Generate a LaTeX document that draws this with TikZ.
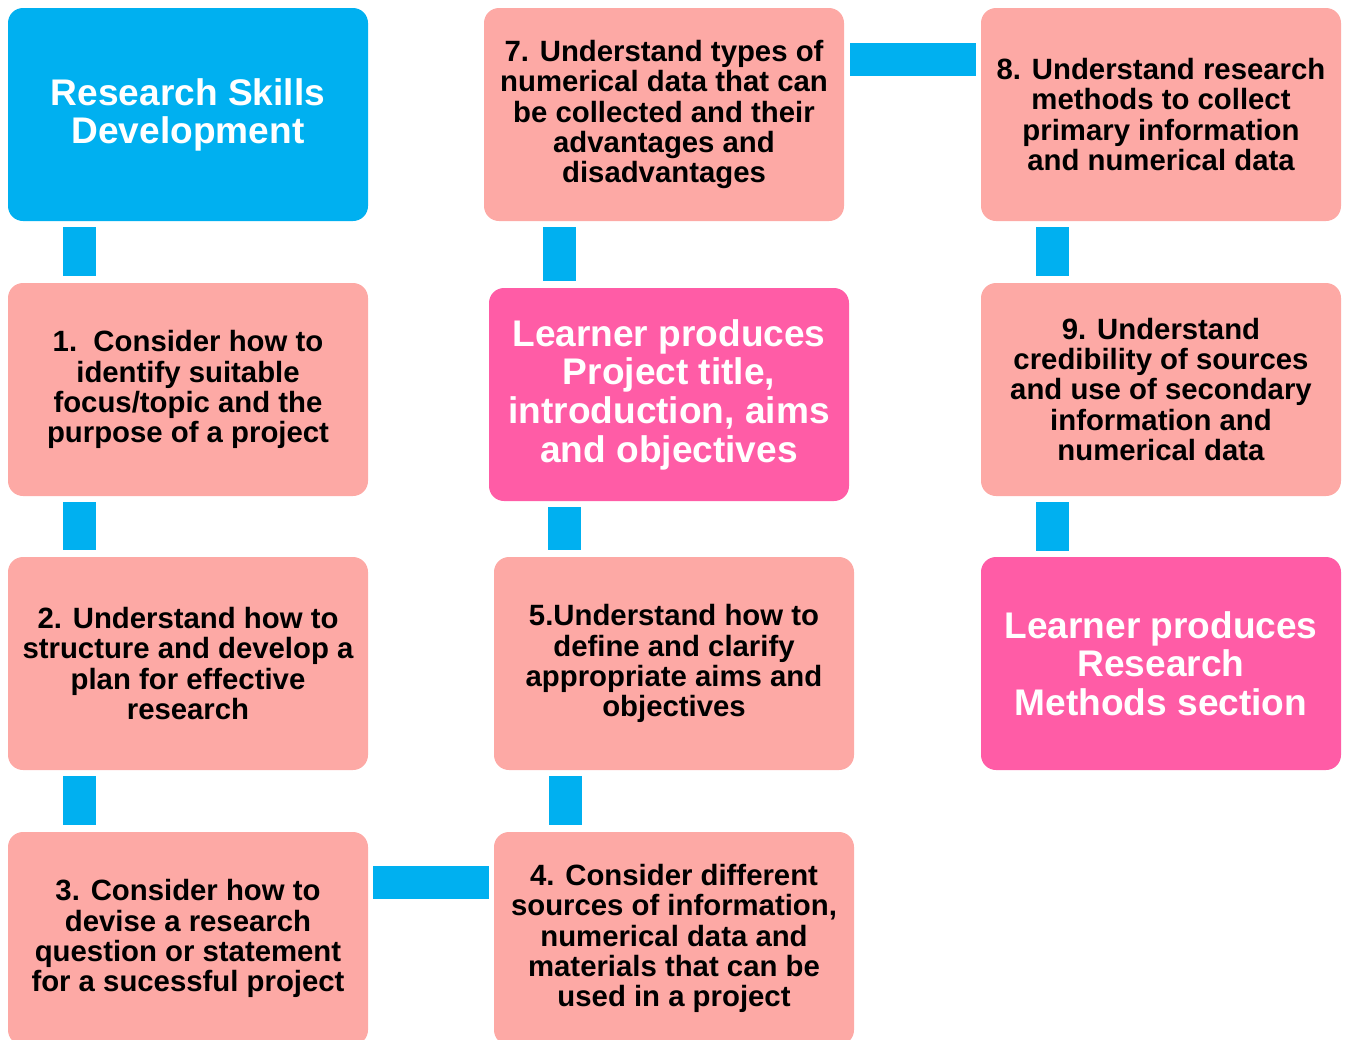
\documentclass[tikz,border=0pt]{standalone}
\usepackage{fontspec}
\setmainfont{Liberation Sans}
\usetikzlibrary{calc}
\definecolor{cblue}{HTML}{00B0F0}
\definecolor{csalmon}{HTML}{FDA9A5}
\definecolor{cpink}{HTML}{FF5CA6}
\tikzset{
  boxbase/.style={rounded corners=11.25pt, minimum width=270pt, minimum height=159.75pt, inner sep=0pt, align=center},
  stepbox/.style={boxbase, fill=csalmon, text=black, font=\bfseries\fontsize{22}{22.6}\selectfont},
  titlebox/.style={boxbase, fill=cblue, text=white, font=\bfseries\fontsize{27.8}{28.5}\selectfont},
  outbox/.style={boxbase, fill=cpink, text=white, font=\bfseries\fontsize{27.8}{29}\selectfont},
  conn/.style={draw=cblue, line width=24.75pt}
}
\begin{document}
\begin{tikzpicture}[x=0.75pt,y=-0.75pt]
\useasboundingbox (0,0) rectangle (1348,1039);
\begin{scope}
\clip (0,0) rectangle (1348,1039);
\node[titlebox] (title) at (188,114.5) {Research Skills\\Development};
\node[stepbox] (b1) at (188,389.5) {1.\ \ Consider how to\\identify suitable\\focus/topic and the\\purpose of a project};
\node[stepbox] (b2) at (188,663.5) {2. Understand how to\\structure and develop a\\plan for effective\\research};
\node[stepbox] (b3) at (188,938.5) {3. Consider how to\\devise a research\\question or statement\\for a sucessful project};
\node[stepbox] (b4) at (674,938.5) {4. Consider different\\sources of information,\\numerical data and\\materials that can be\\used in a project};
\node[stepbox] (b5) at (674,663.5) {5.Understand how to\\define and clarify\\appropriate aims and\\objectives};
\node[outbox] (lp) at (669,394.5) {Learner produces\\Project title,\\introduction, aims\\and objectives};
\node[stepbox] (b7) at (664,114.5) {7. Understand types of\\numerical data that can\\be collected and their\\advantages and\\disadvantages};
\node[stepbox] (b8) at (1161,114.5) {8. Understand research\\methods to collect\\primary information\\and numerical data};
\node[stepbox] (b9) at (1161,389.5) {9. Understand\\credibility of sources\\and use of secondary\\information and\\numerical data};
\node[outbox] (lr) at (1161,663.5) {Learner produces\\Research\\Methods section};

\draw[conn] ($(title.south)+(-108.5,6)$) -- ($(b1.north)+(-108.5,-7)$);
\draw[conn] ($(b1.south)+(-108.5,6)$) -- ($(b2.north)+(-108.5,-7)$);
\draw[conn] ($(b2.south)+(-108.5,6)$) -- ($(b3.north)+(-108.5,-7)$);
\draw[conn] ($(b3.east)+(5,-56.5)$) -- ($(b4.west)+(-5,-56.5)$);
\draw[conn] ($(b4.north)+(-108.5,-7)$) -- ($(b5.south)+(-108.5,6)$);
\draw[conn] ($(b5.north)+(-109.5,-7)$) -- ($(lp.south)+(-104.5,6)$);
\draw[conn] ($(lp.north)+(-109.5,-7)$) -- ($(b7.south)+(-104.5,6)$);
\draw[conn] ($(b7.east)+(6,-55)$) -- ($(b8.west)+(-5,-55)$);
\draw[conn] ($(b8.south)+(-108.5,6)$) -- ($(b9.north)+(-108.5,-7)$);
\draw[conn] ($(b9.south)+(-108.5,6)$) -- ($(lr.north)+(-108.5,-6)$);
\end{scope}
\end{tikzpicture}
\end{document}
